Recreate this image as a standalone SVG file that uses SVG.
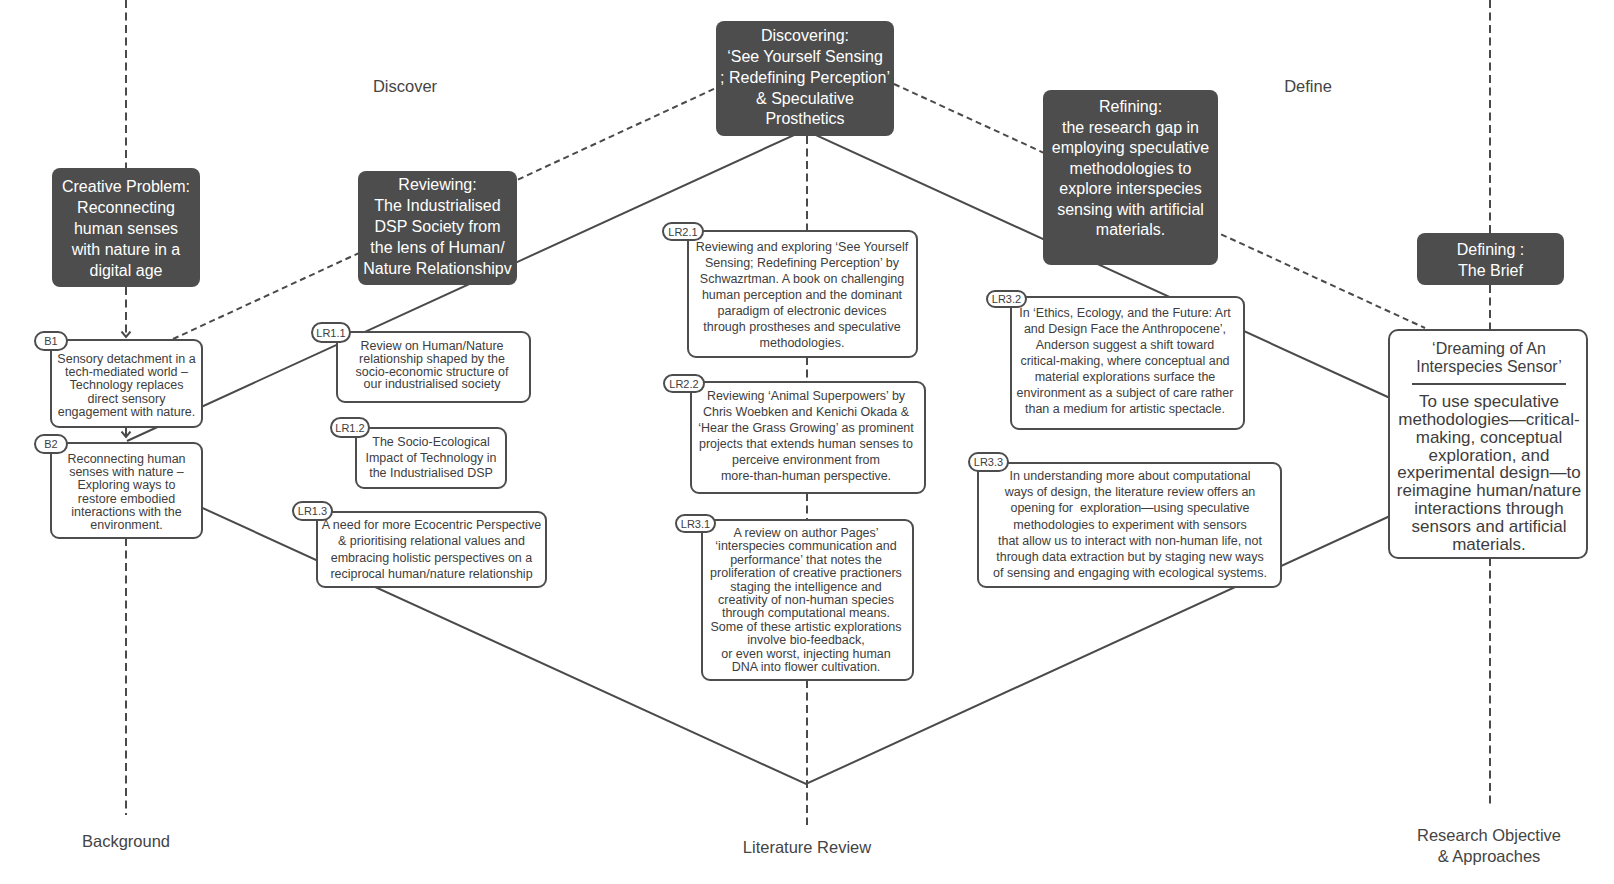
<svg xmlns="http://www.w3.org/2000/svg" width="1614" height="884" viewBox="0 0 1614 884">
<style>
.bg{fill:#fff}
.dk{fill:#4d4d4d}
.wb{fill:#fff;stroke:#4d4d4d;stroke-width:2}
.pl{fill:#fff;stroke:#4d4d4d;stroke-width:2}
.ln{fill:none;stroke:#4a4a4a;stroke-width:2}
.vd{stroke-dasharray:8 4.5}
.dd{stroke-dasharray:6 4}
text{font-family:"Liberation Sans",Arial,sans-serif}
.tw{fill:#fff;font-size:16px;text-anchor:middle}
.ts{fill:#3d3d3d;font-size:12.5px;text-anchor:middle}
.tp{fill:#3d3d3d;font-size:11px;text-anchor:middle}
.tl{fill:#444;font-size:16.5px;text-anchor:middle}
.td{fill:#3d3d3d;font-size:17px;text-anchor:middle}
.tt{fill:#3d3d3d;font-size:16px;text-anchor:middle}
</style>
<defs>
<marker id="chev" viewBox="0 0 8 12" refX="6.5" refY="6" markerWidth="8" markerHeight="12" markerUnits="userSpaceOnUse" orient="auto">
<path d="M1,1.5 L6.5,6 L1,10.5" fill="none" stroke="#4a4a4a" stroke-width="2"/>
</marker>
</defs>
<rect class="bg" x="0" y="0" width="1614" height="884"/>

<g id="connectors">
<!-- vertical phase lines -->
<path class="ln vd" d="M126,0 V168"/>
<path class="ln vd" d="M126,287 V337" marker-end="url(#chev)"/>
<path class="ln" d="M126,427 V437" marker-end="url(#chev)"/>
<path class="ln vd" d="M126,538 V815"/>
<path class="ln vd" d="M807,136 V231"/>
<path class="ln vd" d="M807,357 V382"/>
<path class="ln vd" d="M807,493 V520"/>
<path class="ln vd" d="M807,680 V825"/>
<path class="ln vd" d="M1490,0 V233"/>
<path class="ln vd" d="M1490,285 V330"/>
<path class="ln vd" d="M1490,558 V807"/>
<!-- solid diamond -->
<path class="ln" d="M127,441 L805,130 L1390,398"/>
<path class="ln" d="M126,473 L806,784 L1390,516"/>
<!-- dashed outer diamond -->
<path class="ln dd" d="M173,339 L716,88"/>
<path class="ln dd" d="M894,84 L1425,328"/>
</g>

<g id="phase-labels">
<text class="tl" x="405" y="92">Discover</text>
<text class="tl" x="1308" y="92">Define</text>
<text class="tl" x="126" y="847">Background</text>
<text class="tl" x="807" y="853">Literature Review</text>
<text class="tl" x="1489" y="841">Research Objective</text>
<text class="tl" x="1489" y="862">&amp; Approaches</text>
</g>

<g id="creative-problem">
<rect class="dk" x="52" y="168" width="148" height="119" rx="8"/>
<text class="tw"><tspan x="126" y="192">Creative Problem:</tspan><tspan x="126" y="213">Reconnecting</tspan><tspan x="126" y="234">human senses</tspan><tspan x="126" y="255">with nature in a</tspan><tspan x="126" y="276">digital age</tspan></text>
</g>

<g id="reviewing">
<rect class="dk" x="358" y="171" width="159" height="114" rx="8"/>
<text class="tw"><tspan x="437.5" y="190">Reviewing:</tspan><tspan x="437.5" y="211">The Industrialised</tspan><tspan x="437.5" y="232">DSP Society from</tspan><tspan x="437.5" y="253">the lens of Human/</tspan><tspan x="437.5" y="274">Nature Relationshipv</tspan></text>
</g>

<g id="discovering">
<rect class="dk" x="716" y="21" width="178" height="115" rx="8"/>
<text class="tw"><tspan x="805" y="41">Discovering:</tspan><tspan x="805" y="62">‘See Yourself Sensing</tspan><tspan x="805" y="83">; Redefining Perception’</tspan><tspan x="805" y="103.5">&amp; Speculative</tspan><tspan x="805" y="124">Prosthetics</tspan></text>
</g>

<g id="refining">
<rect class="dk" x="1043" y="90" width="175" height="175" rx="8"/>
<text class="tw"><tspan x="1130.5" y="112">Refining:</tspan><tspan x="1130.5" y="132.5">the research gap in</tspan><tspan x="1130.5" y="153">employing speculative</tspan><tspan x="1130.5" y="173.5">methodologies to</tspan><tspan x="1130.5" y="194">explore interspecies</tspan><tspan x="1130.5" y="214.5">sensing with artificial</tspan><tspan x="1130.5" y="235">materials.</tspan></text>
</g>

<g id="defining">
<rect class="dk" x="1417" y="233" width="147" height="52" rx="8"/>
<text class="tw"><tspan x="1490.5" y="255">Defining :</tspan><tspan x="1490.5" y="276">The Brief</tspan></text>
</g>

<g id="dreaming">
<rect class="wb" x="1389" y="330" width="198" height="228" rx="9"/>
<text class="tt"><tspan x="1489" y="354">‘Dreaming of An</tspan><tspan x="1489" y="372">Interspecies Sensor’</tspan></text>
<line x1="1412" y1="384" x2="1566" y2="384" stroke="#4a4a4a" stroke-width="2"/>
<text class="td"><tspan x="1489" y="407">To use speculative</tspan><tspan x="1489" y="425">methodologies—critical-</tspan><tspan x="1489" y="443">making, conceptual</tspan><tspan x="1489" y="461">exploration, and</tspan><tspan x="1489" y="478">experimental design—to</tspan><tspan x="1489" y="496">reimagine human/nature</tspan><tspan x="1489" y="514">interactions through</tspan><tspan x="1489" y="532">sensors and artificial</tspan><tspan x="1489" y="550">materials.</tspan></text>
</g>

<g id="B1">
<rect class="wb" x="51" y="340" width="151" height="87" rx="8"/>
<rect class="pl" x="35" y="332" width="32" height="18" rx="9"/>
<text class="tp" x="51" y="345">B1</text>
<text class="ts"><tspan x="126.5" y="363">Sensory detachment in a</tspan><tspan x="126.5" y="376.2">tech-mediated world –</tspan><tspan x="126.5" y="389.4">Technology replaces</tspan><tspan x="126.5" y="402.6">direct sensory</tspan><tspan x="126.5" y="415.8">engagement with nature.</tspan></text>
</g>

<g id="B2">
<rect class="wb" x="51" y="443" width="151" height="95" rx="8"/>
<rect class="pl" x="35" y="435" width="32" height="18" rx="9"/>
<text class="tp" x="51" y="448">B2</text>
<text class="ts"><tspan x="126.5" y="463">Reconnecting human</tspan><tspan x="126.5" y="476.2">senses with nature –</tspan><tspan x="126.5" y="489.4">Exploring ways to</tspan><tspan x="126.5" y="502.6">restore embodied</tspan><tspan x="126.5" y="515.8">interactions with the</tspan><tspan x="126.5" y="529">environment.</tspan></text>
</g>

<g id="LR1.1">
<rect class="wb" x="337" y="332" width="193" height="70" rx="8"/>
<rect class="pl" x="312" y="323" width="38" height="19" rx="9.5"/>
<text class="tp" x="331" y="336.5">LR1.1</text>
<text class="ts"><tspan x="432" y="350">Review on Human/Nature</tspan><tspan x="432" y="362.8">relationship shaped by the</tspan><tspan x="432" y="375.6">socio-economic structure of</tspan><tspan x="432" y="388.4">our industrialised society</tspan></text>
</g>

<g id="LR1.2">
<rect class="wb" x="356" y="428" width="150" height="60" rx="8"/>
<rect class="pl" x="331" y="418" width="38" height="19" rx="9.5"/>
<text class="tp" x="350" y="431.5">LR1.2</text>
<text class="ts"><tspan x="431" y="446">The Socio-Ecological</tspan><tspan x="431" y="461.5">Impact of Technology in</tspan><tspan x="431" y="477">the Industrialised DSP</tspan></text>
</g>

<g id="LR1.3">
<rect class="wb" x="317" y="512" width="229" height="75" rx="8"/>
<rect class="pl" x="293" y="502" width="39" height="18" rx="9"/>
<text class="tp" x="312.5" y="515">LR1.3</text>
<text class="ts"><tspan x="431.5" y="529">A need for more Ecocentric Perspective</tspan><tspan x="431.5" y="545.4">&amp; prioritising relational values and</tspan><tspan x="431.5" y="561.8">embracing holistic perspectives on a</tspan><tspan x="431.5" y="578.2">reciprocal human/nature relationship</tspan></text>
</g>

<g id="LR2.1">
<rect class="wb" x="688" y="231" width="229" height="126" rx="8"/>
<rect class="pl" x="663" y="223" width="40" height="17" rx="8.5"/>
<text class="tp" x="683" y="235.5">LR2.1</text>
<text class="ts"><tspan x="802" y="251">Reviewing and exploring ‘See Yourself</tspan><tspan x="802" y="267">Sensing; Redefining Perception’ by</tspan><tspan x="802" y="283">Schwazrtman. A book on challenging</tspan><tspan x="802" y="299">human perception and the dominant</tspan><tspan x="802" y="315">paradigm of electronic devices</tspan><tspan x="802" y="331">through prostheses and speculative</tspan><tspan x="802" y="347">methodologies.</tspan></text>
</g>

<g id="LR2.2">
<rect class="wb" x="691" y="382" width="234" height="111" rx="8"/>
<rect class="pl" x="664" y="375" width="40" height="17" rx="8.5"/>
<text class="tp" x="684" y="387.5">LR2.2</text>
<text class="ts"><tspan x="806" y="400">Reviewing ‘Animal Superpowers’ by</tspan><tspan x="806" y="416">Chris Woebken and Kenichi Okada &amp;</tspan><tspan x="806" y="432">‘Hear the Grass Growing’ as prominent</tspan><tspan x="806" y="448">projects that extends human senses to</tspan><tspan x="806" y="464">perceive environment from</tspan><tspan x="806" y="480">more-than-human perspective.</tspan></text>
</g>

<g id="LR3.1">
<rect class="wb" x="702" y="520" width="211" height="160" rx="8"/>
<rect class="pl" x="676" y="515" width="39" height="17" rx="8.5"/>
<text class="tp" x="695.5" y="527.5">LR3.1</text>
<text class="ts"><tspan x="806" y="537">A review on author Pages’</tspan><tspan x="806" y="550.4">‘interspecies communication and</tspan><tspan x="806" y="563.8">performance’ that notes the</tspan><tspan x="806" y="577.2">proliferation of creative practioners</tspan><tspan x="806" y="590.6">staging the intelligence and</tspan><tspan x="806" y="604">creativity of non-human species</tspan><tspan x="806" y="617.4">through computational means.</tspan><tspan x="806" y="630.8">Some of these artistic explorations</tspan><tspan x="806" y="644.2">involve bio-feedback,</tspan><tspan x="806" y="657.6">or even worst, injecting human</tspan><tspan x="806" y="671">DNA into flower cultivation.</tspan></text>
</g>

<g id="LR3.2">
<rect class="wb" x="1011" y="297" width="233" height="132" rx="8"/>
<rect class="pl" x="987" y="291" width="39" height="16" rx="8"/>
<text class="tp" x="1006.5" y="303">LR3.2</text>
<text class="ts"><tspan x="1125" y="317">In ‘Ethics, Ecology, and the Future: Art</tspan><tspan x="1125" y="333">and Design Face the Anthropocene’,</tspan><tspan x="1125" y="349">Anderson suggest a shift toward</tspan><tspan x="1125" y="365">critical-making, where conceptual and</tspan><tspan x="1125" y="381">material explorations surface the</tspan><tspan x="1125" y="397">environment as a subject of care rather</tspan><tspan x="1125" y="413">than a medium for artistic spectacle.</tspan></text>
</g>

<g id="LR3.3">
<rect class="wb" x="978" y="463" width="303" height="124" rx="8"/>
<rect class="pl" x="969" y="453" width="39" height="18" rx="9"/>
<text class="tp" x="988.5" y="466">LR3.3</text>
<text class="ts"><tspan x="1130" y="480">In understanding more about computational</tspan><tspan x="1130" y="496.2">ways of design, the literature review offers an</tspan><tspan x="1130" y="512.4">opening for&#160; exploration—using speculative</tspan><tspan x="1130" y="528.6">methodologies to experiment with sensors</tspan><tspan x="1130" y="544.8">that allow us to interact with non-human life, not</tspan><tspan x="1130" y="561">through data extraction but by staging new ways</tspan><tspan x="1130" y="577.2">of sensing and engaging with ecological systems.</tspan></text>
</g>
</svg>
